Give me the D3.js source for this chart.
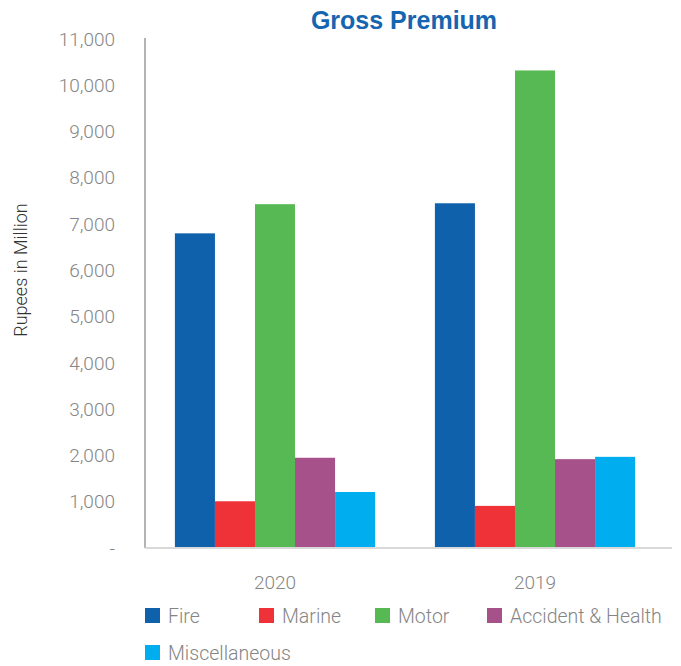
<!DOCTYPE html>
<html>
<head>
<meta charset="utf-8">
<script src="https://cdn.jsdelivr.net/npm/d3@7"></script>
<style>
  body { margin: 0; background: #fff; }
  text { font-family: Roboto, "Liberation Sans", sans-serif; }
  text.title { font-family: "Liberation Sans", Arial, sans-serif; }
</style>
</head>
<body>
<div id="chart"></div>
<script>
// Gross Premium by class of business, Rupees in Million
const years = ["2020", "2019"];
const classes = ["Fire", "Marine", "Motor", "Accident & Health", "Miscellaneous"];
const fire = [6800, 7450];
const marine = [1010, 910];
const motor = [7430, 10320];
const accidentHealth = [1950, 1920];
const misc = [1210, 1970];
const yTicks = [0, 1000, 2000, 3000, 4000, 5000, 6000, 7000, 8000, 9000, 10000, 11000];
const colors = ["#1061ac", "#ee3237", "#56b954", "#a65189", "#00aeef"];

const seriesValues = [fire, marine, motor, accidentHealth, misc];

const width = 681, height = 666;
const svg = d3.select("#chart").append("svg")
  .attr("width", width)
  .attr("height", height);

const x0 = d3.scaleBand()
  .domain(years)
  .range([145, 665])
  .paddingInner(0.23)
  .paddingOuter(0.115);

const x1 = d3.scaleBand()
  .domain(classes)
  .range([0, x0.bandwidth()]);

const y = d3.scaleLinear()
  .domain([0, 11000])
  .range([548, 39]);

const color = d3.scaleOrdinal().domain(classes).range(colors);

// title
svg.append("text")
  .attr("class", "title")
  .attr("x", 404)
  .attr("y", 29)
  .attr("text-anchor", "middle")
  .attr("font-size", 25)
  .attr("font-weight", "bold")
  .attr("fill", "#1565b0")
  .text("Gross Premium");

// y axis
const yAxis = svg.append("g")
  .attr("transform", "translate(145,0)")
  .call(d3.axisLeft(y)
    .tickValues(yTicks)
    .tickSize(0)
    .tickPadding(30)
    .tickFormat(d => d === 0 ? "-" : d3.format(",")(d)));
yAxis.select(".domain").attr("stroke", "#9a9a9a").attr("stroke-width", 1.5)
  .attr("d", `M0,${y(11000) - 1}V${y(0)}`);
yAxis.selectAll("text")
  .attr("font-size", 19)
  .attr("font-weight", 300)
  .attr("fill", "#858585");

svg.append("text")
  .attr("transform", "translate(27,270) rotate(-90)")
  .attr("text-anchor", "middle")
  .attr("font-size", 18)
  .attr("font-weight", 300)
  .attr("fill", "#333")
  .text("Rupees in Million");

// bars
const groups = svg.append("g").selectAll("g")
  .data(years)
  .join("g")
  .attr("transform", d => `translate(${x0(d)},0)`);

groups.selectAll("rect")
  .data((yr, i) => classes.map((c, k) => ({ cls: c, value: seriesValues[k][i] })))
  .join("rect")
  .attr("x", d => x1(d.cls))
  .attr("y", d => y(d.value))
  .attr("width", x1.bandwidth())
  .attr("height", d => y(0) - y(d.value))
  .attr("fill", d => color(d.cls));

// x axis
const xAxis = svg.append("g")
  .attr("transform", `translate(0,${y(0)})`)
  .call(d3.axisBottom(x0).tickSize(0).tickPadding(28));
xAxis.select(".domain").attr("stroke", "#d9d9d9").attr("stroke-width", 2)
  .attr("d", "M145,0H672");
xAxis.selectAll("text")
  .attr("font-size", 19)
  .attr("font-weight", 300)
  .attr("fill", "#858585");

// legend
const legendPos = [[145, 608], [259, 608], [375, 608], [487, 608], [145, 645]];
const legend = svg.append("g").selectAll("g")
  .data(classes)
  .join("g")
  .attr("transform", (d, i) => `translate(${legendPos[i][0]},${legendPos[i][1]})`);
legend.append("rect")
  .attr("width", 15).attr("height", 15)
  .attr("fill", d => color(d));
legend.append("text")
  .attr("x", 23).attr("y", 15)
  .attr("font-size", 19.5)
  .attr("font-weight", 300)
  .attr("fill", "#858585")
  .text(d => d);
</script>
</body>
</html>
